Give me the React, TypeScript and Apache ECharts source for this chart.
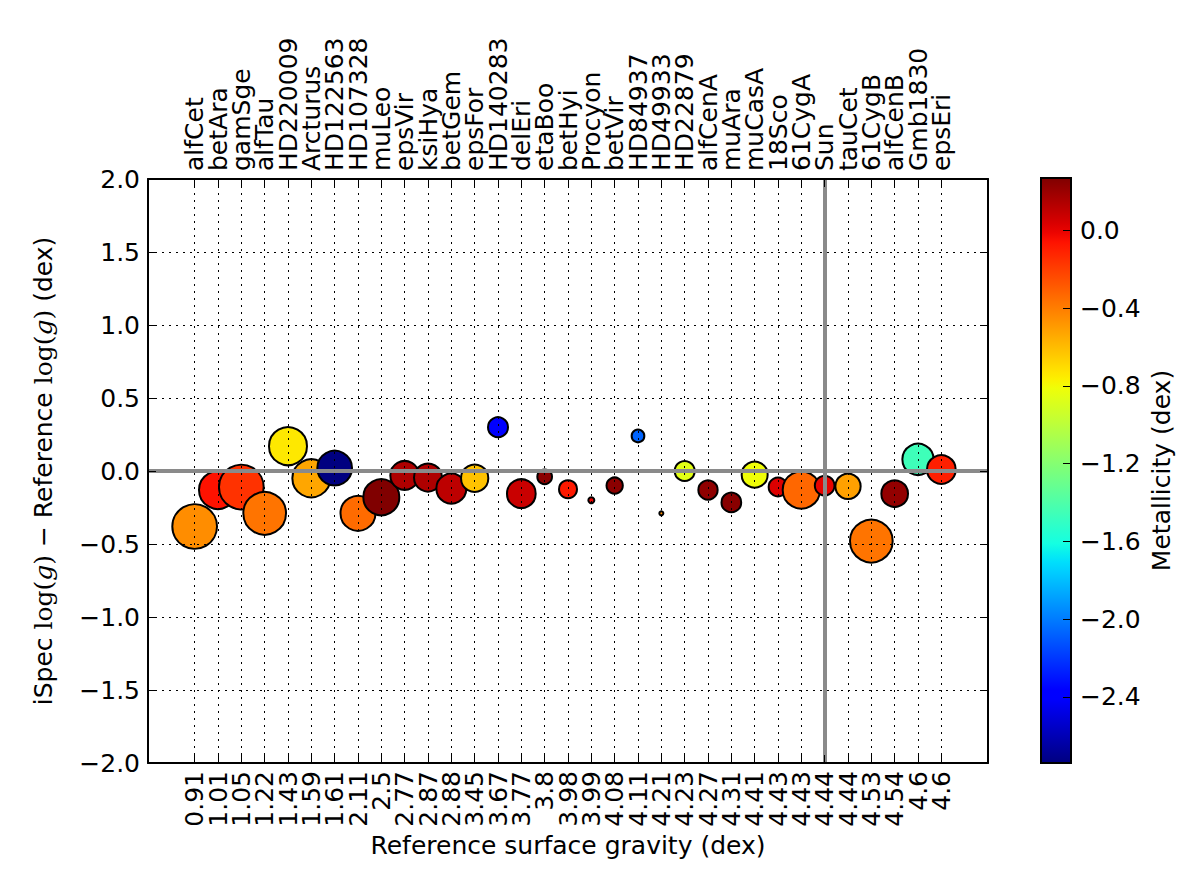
import React, { useEffect, useRef } from 'react';
import * as echarts from 'echarts';

const starNames = ['alfCet', 'betAra', 'gamSge', 'alfTau', 'HD220009', 'Arcturus', 'HD122563', 'HD107328', 'muLeo', 'epsVir', 'ksiHya', 'betGem', 'epsFor', 'HD140283', 'delEri', 'etaBoo', 'betHyi', 'Procyon', 'betVir', 'HD84937', 'HD49933', 'HD22879', 'alfCenA', 'muAra', 'muCasA', '18Sco', '61CygA', 'Sun', 'tauCet', '61CygB', 'alfCenB', 'Gmb1830', 'epsEri'];
const refLogg = ['0.91', '1.01', '1.05', '1.22', '1.43', '1.59', '1.61', '2.11', '2.5', '2.77', '2.87', '2.88', '3.45', '3.67', '3.77', '3.8', '3.98', '3.99', '4.08', '4.11', '4.21', '4.23', '4.27', '4.31', '4.41', '4.43', '4.43', '4.44', '4.44', '4.53', '4.54', '4.6', '4.6'];
const deltaLogg = [-0.38, -0.13, -0.11, -0.29, 0.17, -0.05, 0.02, -0.29, -0.18, -0.03, -0.045, -0.12, -0.05, 0.30, -0.155, -0.04, -0.125, -0.20, -0.10, 0.24, -0.29, 0.0, -0.13, -0.215, -0.025, -0.11, -0.13, -0.10, -0.105, -0.48, -0.155, 0.08, 0.01];
const metallicity = [-0.45, -0.06, -0.16, -0.37, -0.74, -0.53, -2.74, -0.34, 0.27, 0.15, 0.15, 0.11, -0.62, -2.38, 0.08, 0.24, -0.08, 0.0, 0.24, -2.07, -0.45, -0.86, 0.23, 0.25, -0.81, 0.03, -0.33, 0.0, -0.51, -0.37, 0.22, -1.46, -0.1];
const bubbleSize = [46.7, 40, 46.7, 44.7, 40, 40, 36.7, 37, 38, 30.7, 30, 32, 29.3, 22, 30.7, 16.7, 20, 8, 18.3, 14.7, 6, 22, 21.3, 21.7, 28, 20.7, 39.3, 21.7, 27.3, 44.7, 28.7, 33.3, 30.7];
const yTicks = [-2, -1.5, -1, -0.5, 0, 0.5, 1, 1.5, 2];
const colorbarTicks = [0, -0.4, -0.8, -1.2, -1.6, -2.0, -2.4];

const FONT = 'DejaVu Sans';
const FS = 25;

function interp(pts: number[][], t: number): number {
  for (let i = 1; i < pts.length; i++) {
    if (t <= pts[i][0]) {
      const [x0, y0] = pts[i - 1];
      const [x1, y1] = pts[i];
      return y0 + ((t - x0) / (x1 - x0)) * (y1 - y0);
    }
  }
  return pts[pts.length - 1][1];
}
function jet(t: number): string {
  const r = interp([[0, 0], [0.35, 0], [0.66, 1], [0.89, 1], [1, 0.5]], t);
  const g = interp([[0, 0], [0.125, 0], [0.375, 1], [0.64, 1], [0.91, 0], [1, 0]], t);
  const b = interp([[0, 0.5], [0.11, 1], [0.34, 1], [0.65, 0], [1, 0]], t);
  const c = (v: number) => Math.round(Math.max(0, Math.min(1, v)) * 255);
  return `rgb(${c(r)},${c(g)},${c(b)})`;
}

const minus = (v: number, d: number) => (v < -1e-9 ? '\u2212' : '') + Math.abs(v).toFixed(d);

export default function App() {
  const ref = useRef<HTMLDivElement>(null);
  useEffect(() => {
    if (!ref.current) return;
    const chart = echarts.init(ref.current, null, { renderer: 'svg' });
    const cMin = Math.min(...metallicity);
    const cMax = Math.max(...metallicity);
    const N = 64;
    const jetColors: string[] = [];
    for (let i = 0; i <= N; i++) jetColors.push(jet(i / N));
    const stops = jetColors.map((c, i) => ({ offset: i / N, color: jetColors[N - i] }));
    const idx = starNames.map((_, i) => i);
    const evenIdx = idx.filter((i) => i % 2 === 0);
    const oddIdx = idx.filter((i) => i % 2 === 1);
    const sunIndex = starNames.indexOf('Sun');
    const txt = { fontFamily: FONT, fontSize: FS, color: '#000' };
    const frameLine = { show: true, onZero: false, lineStyle: { color: '#000', width: 2 } };
    const tick = { show: true, inside: true, length: 8, lineStyle: { color: '#000', width: 1 } };
    const dotted = { show: true, lineStyle: { color: '#000', width: 1, type: [2, 5] } };

    const labelAxis = (position: string, values: number[], names: string[], rotate: number) => ({
      type: 'value', gridIndex: 0, position, offset: 0, min: -2, max: 34, z: 5,
      axisLine: { show: false, onZero: false },
      axisTick: { show: false },
      axisLabel: {
        ...txt, customValues: values, rotate, margin: 8, hideOverlap: false,
        showMinLabel: true, showMaxLabel: true,
        formatter: (v: number) => names[v] ?? '',
      },
      splitLine: { show: false },
    });

    chart.setOption({
      animation: false,
      backgroundColor: '#fff',
      grid: [
        { left: 148, top: 179, width: 840, height: 584 },
        { left: 1041, top: 178, width: 30, height: 585 },
      ],
      visualMap: {
        type: 'continuous', show: false, seriesIndex: 0, dimension: 2,
        min: cMin, max: cMax, inRange: { color: jetColors },
      },
      xAxis: [
        {
          type: 'value', gridIndex: 0, position: 'bottom', offset: 0, min: -2, max: 34, z: 5,
          axisLine: frameLine,
          axisTick: { ...tick, customValues: idx },
          axisLabel: { show: false },
          splitLine: dotted,
          name: 'Reference surface gravity (dex)', nameLocation: 'middle', nameGap: 70,
          nameTextStyle: txt,
        },
        {
          type: 'value', gridIndex: 0, position: 'top', offset: 0, min: -2, max: 34, z: 5,
          axisLine: frameLine,
          axisTick: { ...tick, customValues: idx },
          axisLabel: { show: false },
          splitLine: { show: false },
        },
        { type: 'value', gridIndex: 1, min: 0, max: 1, show: false },
        labelAxis('bottom', evenIdx, refLogg, 90),
        labelAxis('bottom', oddIdx, refLogg, 90),
        labelAxis('top', evenIdx, starNames, -90),
        labelAxis('top', oddIdx, starNames, -90),
      ],
      yAxis: [
        {
          type: 'value', gridIndex: 0, min: -2, max: 2, interval: 0.5, z: 5,
          axisLine: frameLine,
          axisTick: { ...tick, customValues: yTicks },
          axisLabel: { ...txt, customValues: yTicks, margin: 8, showMinLabel: true, showMaxLabel: true, formatter: (v: number) => minus(v, 1) },
          splitLine: dotted,
          name: 'iSpec {m|log(}{i|g}{m|)} \u2212 Reference {m|log(}{i|g}{m|)} (dex)',
          nameLocation: 'middle', nameGap: 92, nameRotate: 90,
          nameTextStyle: {
            ...txt,
            rich: {
              m: { fontFamily: 'DejaVu Serif', fontSize: FS, color: '#000' },
              i: { fontFamily: 'DejaVu Serif', fontStyle: 'italic', fontSize: FS, color: '#000' },
            },
          },
        },
        {
          type: 'value', gridIndex: 0, position: 'right', min: -2, max: 2, interval: 0.5, z: 5,
          axisLine: frameLine,
          axisTick: { ...tick, customValues: yTicks },
          axisLabel: { show: false },
          splitLine: { show: false },
        },
        {
          type: 'value', gridIndex: 1, position: 'right', min: cMin, max: cMax, z: 5,
          axisLine: { show: false, onZero: false },
          axisTick: { ...tick, customValues: colorbarTicks },
          axisLabel: { ...txt, customValues: colorbarTicks, margin: 9, formatter: (v: number) => minus(v, 1) },
          splitLine: { show: false },
          name: 'Metallicity (dex)', nameLocation: 'middle', nameGap: 78, nameRotate: 90,
          nameTextStyle: txt,
        },
      ],
      series: [
        {
          type: 'scatter', xAxisIndex: 0, yAxisIndex: 0, z: 2, silent: true,
          data: starNames.map((_, i) => [i, deltaLogg[i], metallicity[i], bubbleSize[i]]),
          symbolSize: (v: number[]) => v[3] - 2,
          itemStyle: { borderColor: '#000', borderWidth: 2, opacity: 1 },
        },
        {
          type: 'scatter', xAxisIndex: 0, yAxisIndex: 0, z: 1, silent: true, data: [],
          markLine: {
            silent: true, symbol: ['none', 'none'], label: { show: false },
            lineStyle: { color: '#8a8a8a', width: 4, type: 'solid', opacity: 1 },
            data: [{ yAxis: 0 }, { xAxis: sunIndex }],
          },
        },
        {
          type: 'custom', xAxisIndex: 2, yAxisIndex: 2, z: 2, silent: true, data: [[0, 0]],
          renderItem: (_p: any, api: any) => {
            const tl = api.coord([0, cMax]);
            const br = api.coord([1, cMin]);
            return {
              type: 'rect',
              shape: { x: tl[0], y: tl[1], width: br[0] - tl[0], height: br[1] - tl[1] },
              style: { fill: new echarts.graphic.LinearGradient(0, 0, 0, 1, stops), stroke: '#000', lineWidth: 2 },
            };
          },
        },
      ],
    });
    return () => chart.dispose();
  }, []);
  return <div ref={ref} style={{ position: 'fixed', left: 0, top: 0, width: 1196, height: 896 }} />;
}
